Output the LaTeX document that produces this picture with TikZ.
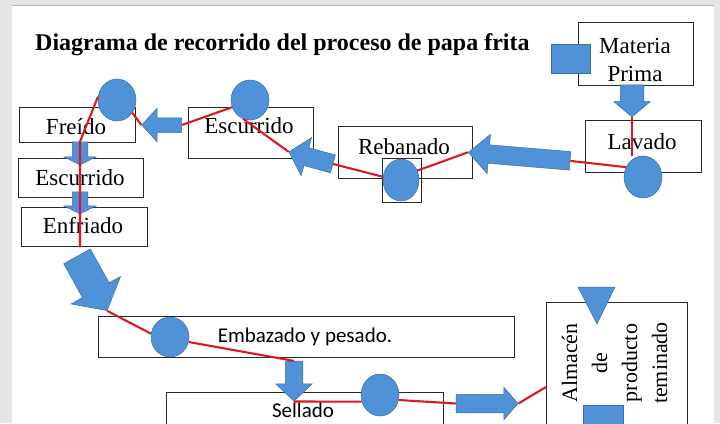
\documentclass[tikz,border=0pt]{standalone}
\usepackage{fontspec}
\setmainfont{Liberation Serif}
\newfontfamily\calib{Carlito}
\usetikzlibrary{shapes.geometric,shapes.arrows}
\definecolor{bfill}{RGB}{80,146,216}
\definecolor{bline}{RGB}{60,110,160}
\definecolor{rline}{RGB}{222,24,34}
\definecolor{framegray}{RGB}{229,230,232}
\definecolor{boxline}{RGB}{40,40,40}
\begin{document}
\begin{tikzpicture}[x=1pt,y=-1pt,
 box/.style={draw=boxline,line width=1.3pt,inner sep=0pt,anchor=north west},
 blk/.style={fill=bfill,draw=bline,line width=0.5pt},
 circ/.style={blk,ellipse,minimum width=38pt,minimum height=42pt,inner sep=0pt},
 barrow/.style={blk,single arrow,inner xsep=0pt,single arrow head indent=0pt},
 flow/.style={draw=rline,line width=2.1pt},
 lbl/.style={font=\fontsize{23}{27}\selectfont,anchor=base,inner sep=0pt},
 vlbl/.style={font=\fontsize{22}{26}\selectfont,anchor=base,inner sep=0pt,rotate=90},
 slbl/.style={font=\calib\fontsize{21}{25}\selectfont,anchor=base,inner sep=0pt},
]
\useasboundingbox (0,0) rectangle (720,423);
\clip (0,0) rectangle (720,423);
\fill[framegray] (0,0) rectangle (720,423);
\fill[white] (12,6) rectangle (714,430);
\draw[gray!55,line width=1pt] (12,5.5) -- (714,5.5);

% boxes
\node[box,minimum width=115pt,minimum height=63pt] (mp) at (578,22) {};
\node[box,minimum width=116pt,minimum height=52pt] (lav) at (585,120) {};
\node[box,minimum width=134pt,minimum height=52pt] (reb) at (338,126) {};
\node[box,minimum width=39pt,minimum height=44pt] (rebsq) at (382,158) {};
\node[box,minimum width=125pt,minimum height=51pt] (esct) at (188,107) {};
\node[box,minimum width=116pt,minimum height=35pt] (fre) at (19,107) {};
\node[box,minimum width=125pt,minimum height=39pt] (escl) at (18,158) {};
\node[box,minimum width=126pt,minimum height=39pt] (enf) at (21,207) {};
\node[box,minimum width=416pt,minimum height=41pt] (emb) at (98,316) {};
\node[box,minimum width=277pt,minimum height=50pt] (sel) at (166,392) {};
\node[box,minimum width=141pt,minimum height=140pt] (alm) at (546,302) {};

% texts
\node[lbl,font=\bfseries\fontsize{24}{28}\selectfont,anchor=base west] (title) at (35,50) {Diagrama de recorrido del proceso de papa frita};
\node[lbl] (tmp1) at (635,53) {Materia};
\node[lbl] (tmp2) at (635,81) {Prima};
\node[lbl] (tlav) at (642,149) {Lavado};
\node[lbl] (treb) at (404,154) {Rebanado};
\node[lbl] (tesct) at (249,133) {Escurrido};
\node[lbl] (tfre) at (76,134) {Freído};
\node[lbl] (tescl) at (80,185) {Escurrido};
\node[lbl] (tenf) at (83,233) {Enfriado};
\node[slbl] (temb) at (305,342) {Embazado y pesado.};
\node[slbl] (tsel) at (303,417) {Sellado};
\node[vlbl] (ta1) at (577,363) {Almacén};
\node[vlbl] (ta2) at (607,363) {de};
\node[vlbl] (ta3) at (637,363) {producto};
\node[vlbl] (ta4) at (667,363) {teminado};

% block arrows
\node[barrow,minimum height=32pt,inner ysep=11.5pt,single arrow head extend=6.5pt,single arrow tip angle=100,rotate=-90] (a1) at (632,96) {};
\node[barrow,minimum height=102pt,inner ysep=9pt,single arrow head extend=10.5pt,single arrow tip angle=88,rotate=175.2] (a2) at (524,157) {};
\node[barrow,minimum height=45.6pt,inner ysep=9pt,single arrow head extend=10.5pt,single arrow tip angle=95,rotate=164.7] (a3) at (315,159) {};
\node[barrow,minimum height=40pt,inner ysep=7pt,single arrow head extend=9.5pt,single arrow tip angle=95,rotate=180] (a4) at (165,125) {};
\node[barrow,minimum height=23pt,inner ysep=7.5pt,single arrow head extend=8.5pt,single arrow tip angle=127,rotate=-90] (a5) at (80,151.5) {};
\node[barrow,minimum height=22pt,inner ysep=7.5pt,single arrow head extend=8.5pt,single arrow tip angle=127,rotate=-90] (a6) at (80,201) {};
\node[barrow,minimum height=62pt,inner ysep=15pt,single arrow head extend=13pt,single arrow tip angle=101,rotate=-61] (a7) at (89,278) {};
\node[barrow,minimum height=40pt,inner ysep=8.5pt,single arrow head extend=9.5pt,single arrow tip angle=93,rotate=-90] (a8) at (294,377) {};
\node[barrow,minimum height=62pt,inner ysep=9pt,single arrow head extend=7pt,single arrow tip angle=98] (a9) at (483,403.5) {};

% other symbols
\node[blk,minimum width=39pt,minimum height=29pt,inner sep=0pt,anchor=north west] (mpsq) at (551,44) {};
\node[blk,minimum width=40pt,minimum height=30pt,inner sep=0pt,anchor=north west] (almsq) at (583,405) {};
\path[blk] (578,287) -- (615,287) -- (597,324) -- cycle;
\coordinate (almin) at (546,387);

% circles
\node[circ] (c1) at (643,177) {};
\node[circ,minimum width=36pt] (c2) at (401,180) {};
\node[circ,minimum height=40pt] (c3) at (250,100) {};
\node[circ] (c4) at (117,100) {};
\node[circ,minimum height=40pt] (c5) at (170,337) {};
\node[circ] (c6) at (380,395) {};

% red flow lines
\draw[flow] (a1.tip) -- (a1.tip |- c1.north);
\draw[flow] (a2.tail) -- (c1.150);
\draw[flow] (a2.tip) -- (c2.30);
\draw[flow] (c2.170) -- (a3.tail);
\draw[flow] (a3.tip) -- (c3.250);
\draw[flow] (c3.202) -- (a4.tail);
\draw[flow] (a4.tip) -- (c4.320);
\draw[flow] (c4.170) -- (a5.tail) -- (a6.tip |- enf.south);
\draw[flow] (a7.tip) -- (c5.170);
\draw[flow] (c5.345) -- (a8.tail);
\draw[flow] (a8.tip) -- (c6.200);
\draw[flow] (c6.345) -- (a9.tail);
\draw[flow] (a9.tip) -- (almin);
\end{tikzpicture}
\end{document}
